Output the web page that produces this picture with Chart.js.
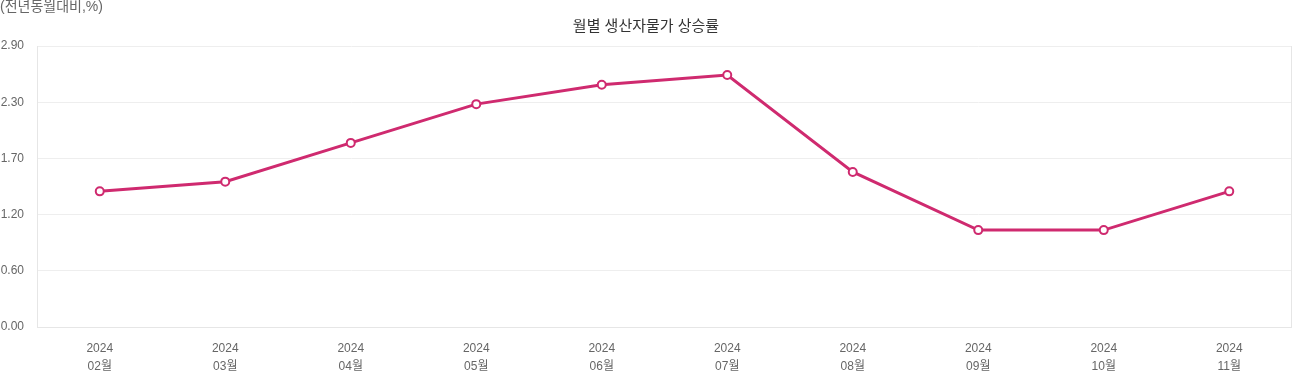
<!DOCTYPE html>
<html>
<head>
<meta charset="utf-8">
<script src="https://cdn.jsdelivr.net/npm/chart.js@4"></script>
<style>
  html, body { margin: 0; padding: 0; background: #fff; overflow: hidden; }
</style>
</head>
<body>
<canvas id="ppiChart" width="1292" height="380"></canvas>
<script>
// 월별 생산자물가 상승률 (전년동월대비, %)
const years = ['2024', '2024', '2024', '2024', '2024', '2024', '2024', '2024', '2024', '2024'];
const months = ['02월', '03월', '04월', '05월', '06월', '07월', '08월', '09월', '10월', '11월'];
const rates = [1.4, 1.5, 1.9, 2.3, 2.5, 2.6, 1.6, 1.0, 1.0, 1.4];
const yMax = 2.9;
const yStep = 0.58;

const fontFamily = "'Liberation Sans', Arial, 'Noto Sans CJK KR', sans-serif";

// 단위 표시 + 오른쪽 테두리
const extras = {
  id: 'extras',
  afterDraw(chart) {
    const { ctx, chartArea } = chart;
    ctx.save();
    ctx.strokeStyle = '#e6e6e6';
    ctx.lineWidth = 1;
    ctx.beginPath();
    ctx.moveTo(Math.round(chartArea.right) - 0.5, chartArea.top);
    ctx.lineTo(Math.round(chartArea.right) - 0.5, chartArea.bottom);
    ctx.stroke();
    ctx.fillStyle = '#666';
    ctx.font = "14px " + fontFamily;
    ctx.textBaseline = 'top';
    ctx.textAlign = 'left';
    ctx.fillText('(전년동월대비,%)', 0, 0);
    ctx.restore();
  }
};

new Chart(document.getElementById('ppiChart').getContext('2d'), {
  type: 'line',
  data: {
    labels: years.map((y, i) => [y, months[i]]),
    datasets: [{
      label: '생산자물가 상승률',
      data: rates,
      borderColor: '#cf2a6f',
      backgroundColor: '#ffffff',
      borderWidth: 3,
      pointRadius: 4,
      pointBorderWidth: 2,
      pointBackgroundColor: '#ffffff',
      pointBorderColor: '#cf2a6f',
      tension: 0
    }]
  },
  options: {
    responsive: false,
    animation: false,
    layout: { autoPadding: false, padding: { top: 10, right: 0, left: 0, bottom: 0 } },
    plugins: {
      legend: { display: false },
      tooltip: { enabled: false },
      title: {
        display: true,
        text: '월별 생산자물가 상승률',
        color: '#333',
        font: { size: 15, family: fontFamily, weight: 'normal' },
        padding: { top: 8, bottom: 10 }
      }
    },
    scales: {
      x: {
        offset: true,
        afterFit: scale => {
          scale.height = 53;
          scale.paddingLeft = 0;
          scale.paddingRight = 0;
        },
        grid: { display: false },
        border: { display: true, color: '#e6e6e6' },
        ticks: {
          color: '#666',
          font: { size: 12, family: fontFamily, lineHeight: 1.5 },
          padding: 5,
          maxRotation: 0
        }
      },
      y: {
        min: 0,
        max: yMax,
        afterFit: scale => { scale.width = 37; },
        grid: { color: '#eeeeee', drawTicks: false },
        border: { display: true, color: '#e6e6e6' },
        ticks: {
          stepSize: yStep,
          color: '#666',
          font: { size: 12, family: fontFamily },
          padding: 13,
          callback: v => (Math.round(v * 10) / 10).toFixed(2)
        }
      }
    }
  },
  plugins: [extras]
});
</script>
</body>
</html>
